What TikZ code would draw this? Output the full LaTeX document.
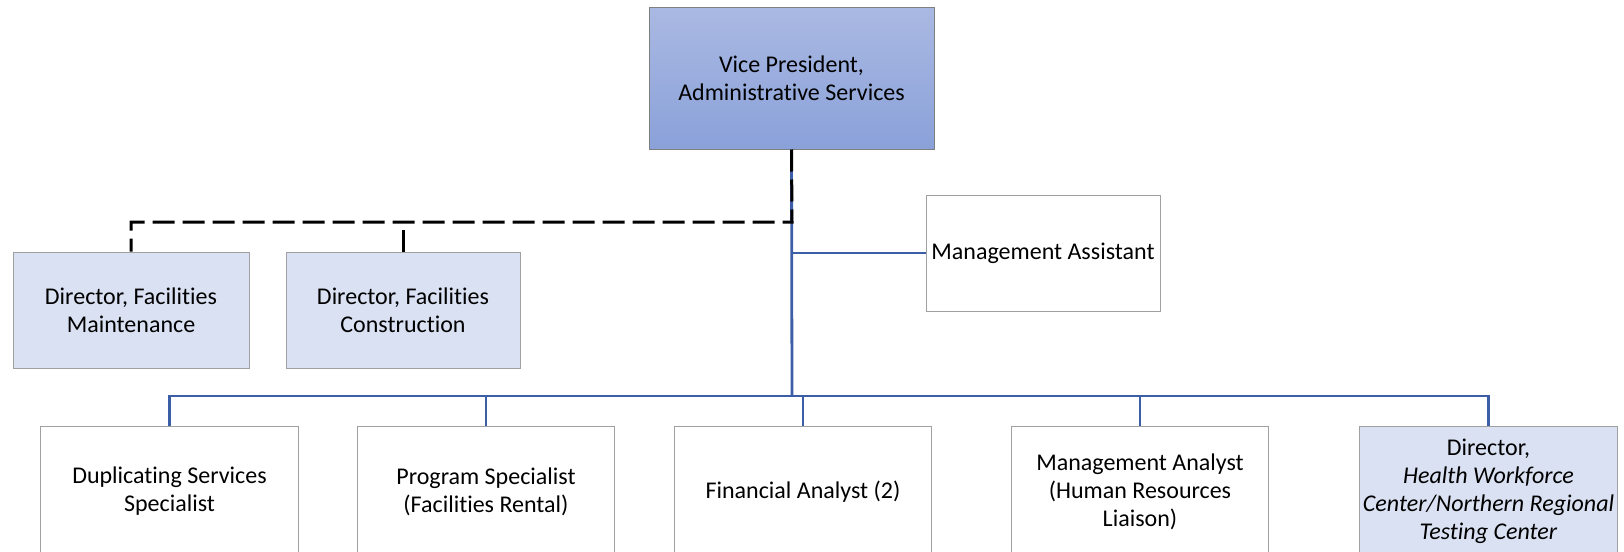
\documentclass[tikz,border=0pt]{standalone}
\usepackage{fontspec}
\setmainfont{Carlito}[Ligatures=NoCommon]
\usepackage{xcolor}
\definecolor{lineBlue}{HTML}{3B5EA6}
\definecolor{lightBlue}{HTML}{D9E1F2}
\definecolor{vpTop}{HTML}{AAB9E2}
\definecolor{vpBot}{HTML}{8AA1D9}
\definecolor{boxGray}{HTML}{A0A0A0}
\definecolor{vpGray}{HTML}{7F7F7F}

\begin{document}
\begin{tikzpicture}[
    x=0.5pt, y=-0.5pt,
    font=\fontsize{12}{14}\selectfont,
    line/.style={line width=1.4pt, draw=lineBlue},
    dline/.style={line width=1.5pt, draw=black, dash pattern=on 11pt off 4pt},
    box/.style={
        rectangle,
        draw=boxGray,
        line width=0.5pt,
        fill=white,
        align=center,
        inner sep=0pt,
      },
    top/.style={box, minimum width=117pt, minimum height=58pt},
    low/.style={box, minimum width=128.75pt, minimum height=65pt, anchor=north},
    dir/.style={fill=lightBlue},
    vp/.style={box, draw=vpGray, top color=vpTop, bottom color=vpBot,
        minimum width=142.5pt, minimum height=71pt},
  ]
  \useasboundingbox (0,0) rectangle (1624,552);
  \clip (0,0) rectangle (1624,552);

  \node[vp] (VP) at (791.5,78) {Vice President,\\Administrative Services};

  \node[top, dir, minimum width=118pt] (FM) at (131,310) {Director, Facilities\\Maintenance};
  \node[top, dir] (FC) at (403,310) {Director, Facilities\\Construction};
  \node[top] (MA) at (1043,253) {Management Assistant};

  \node[low] (DS) at (169.5,426) {Duplicating Services\\Specialist};
  \node[low] (PS) at (486,426) {Program Specialist\\(Facilities Rental)};
  \node[low] (FA) at (803,426) {Financial Analyst (2)};
  \node[low] (MAn) at (1140,426) {Management Analyst\\(Human Resources\\Liaison)};
  \node[low, dir] (HW) at (1488.5,426) {Director,\\\textit{Health Workforce}\\
    \textit{Center/Northern Regional}\\\textit{Testing Center}};

  \coordinate (bus) at (792,396);
  \coordinate (dash) at (792,222);

  \draw[line] (VP.south) -- (bus);
  \draw[line] (MA.west) -- (MA.west -| VP.south);
  \foreach \n in {DS,PS,FA,MAn,HW}
    \draw[line] (bus) -| (\n.north);

  \draw[dline] (VP.south) -- (dash) -| (FM.north);
  \draw[dline] (FC.north) -- (FC.north |- dash);
\end{tikzpicture}
\end{document}
